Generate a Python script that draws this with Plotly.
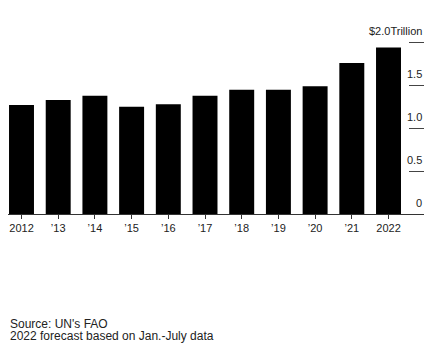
import plotly.graph_objects as go

# Global food import bill, trillions of US dollars
years = ["2012", "’13", "’14", "’15", "’16", "’17", "’18", "’19", "’20", "’21", "2022"]
values = [1.27, 1.33, 1.38, 1.25, 1.28, 1.38, 1.45, 1.45, 1.49, 1.76, 1.94]

y_ticks = [0, 0.5, 1.0, 1.5, 2.0]
y_tick_labels = ["0", "0.5", "1.0", "1.5", "$2.0Trillion"]

source_lines = ["Source: UN's FAO", "2022 forecast based on Jan.-July data"]

FONT = "Liberation Sans, Arial, sans-serif"
TEXT = "#222222"

fig = go.Figure(
    go.Bar(
        x=list(range(len(years))),
        y=values,
        marker=dict(color="#000000", line=dict(width=0)),
        width=0.68,
    )
)

fig.update_layout(
    width=444,
    height=345,
    margin=dict(l=8, r=20, t=20, b=130.5),
    paper_bgcolor="white",
    plot_bgcolor="white",
    showlegend=False,
    font=dict(family=FONT, size=11, color=TEXT),
)

fig.update_xaxes(
    range=[-0.368, 10.967],
    tickmode="array",
    tickvals=list(range(len(years))),
    ticktext=years,
    showgrid=False,
    zeroline=False,
    showline=True,
    linecolor="#333333",
    linewidth=1,
    ticks="outside",
    ticklen=4,
    tickcolor="#333333",
    tickfont=dict(family=FONT, size=11, color=TEXT),
)

# Short tick strokes on the right edge; labels sit just above each stroke
fig.update_yaxes(
    side="right",
    range=[0, 2.262],
    tickmode="array",
    tickvals=y_ticks,
    showticklabels=False,
    ticks="inside",
    ticklen=15,
    tickwidth=1,
    tickcolor="#444444",
    showgrid=False,
    zeroline=False,
    showline=False,
)

for val, label in zip(y_ticks, y_tick_labels):
    fig.add_annotation(
        text=label,
        xref="paper",
        yref="y",
        x=1.0,
        y=val,
        xanchor="right",
        yanchor="bottom",
        yshift=3,
        showarrow=False,
        font=dict(family=FONT, size=11, color=TEXT),
    )

for i, line in enumerate(source_lines):
    fig.add_annotation(
        text=line,
        xref="paper",
        yref="paper",
        x=0.0,
        y=(214.5 - (325 + 12 * i)) / 194.5,
        xanchor="left",
        yanchor="middle",
        showarrow=False,
        font=dict(family=FONT, size=12, color=TEXT),
    )

fig.write_html("out.html")
